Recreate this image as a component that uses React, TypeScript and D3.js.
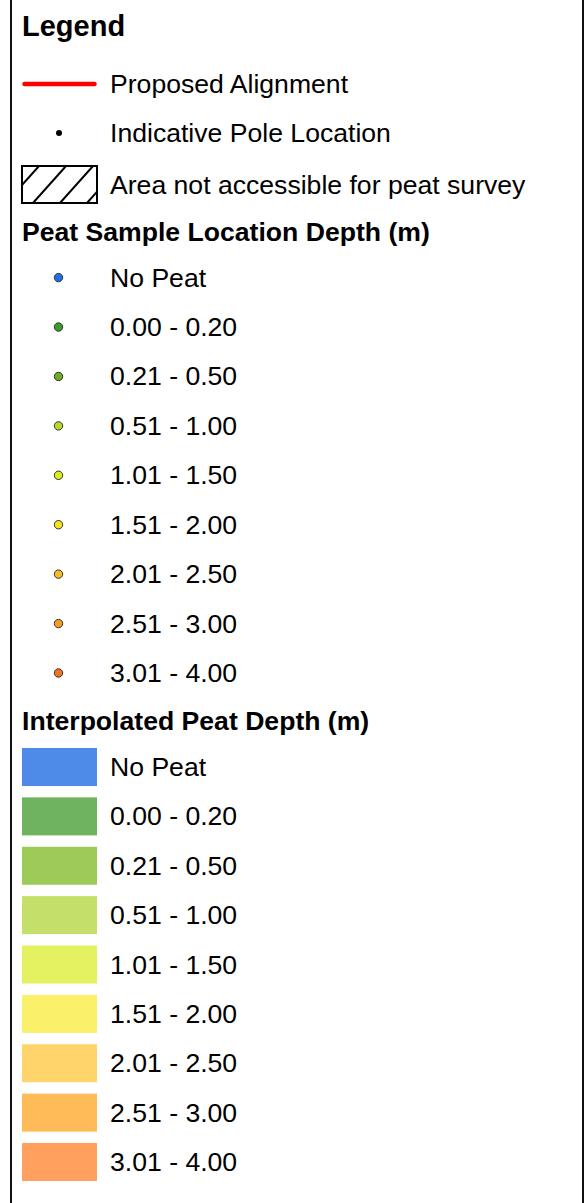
import { useEffect } from "react";
import * as d3 from "d3";

const depthLabels = [
  "No Peat",
  "0.00 - 0.20",
  "0.21 - 0.50",
  "0.51 - 1.00",
  "1.01 - 1.50",
  "1.51 - 2.00",
  "2.01 - 2.50",
  "2.51 - 3.00",
  "3.01 - 4.00",
];
const sampleColors = [
  "#1f6fe8",
  "#3b9a2c",
  "#6cae1e",
  "#b3d82a",
  "#dcec1c",
  "#f4e41c",
  "#f7bc24",
  "#f79c1c",
  "#f27222",
];
const surfaceColors = [
  "#4e8ae8",
  "#6fb260",
  "#9dcb58",
  "#c5e06a",
  "#e4f262",
  "#faf06a",
  "#ffd46a",
  "#ffbb58",
  "#ffa05e",
];
const headings = ["Legend", "Peat Sample Location Depth (m)", "Interpolated Peat Depth (m)"];
const generalItems = ["Proposed Alignment", "Indicative Pole Location", "Area not accessible for peat survey"];

const W = 588;
const H = 1203;
const FONT = "'Liberation Sans', Arial, sans-serif";

export default function App() {
  useEffect(() => {
    document.body.style.margin = "0";
  }, []);

  // row positions (index -> y centre)
  const sampleY = d3.scaleLinear().domain([0, 8]).range([277.6, 673]);
  const surfaceY = d3.scaleLinear().domain([0, 8]).range([767, 1162]);
  const generalY = [84, 133, 184.5];

  const symX = 22;
  const symW = 75;
  const textX = 110;
  const swatchH = 38;
  const bodySize = 26.6;
  const headSize = 26.6;

  const hatch = { x: symX, y: 166, w: symW, h: 37 };
  const hatchLines = d3.range(-1, 3).map((k) => hatch.x + 11 + k * 27);

  return (
    <svg width={W} height={H} style={{ display: "block", background: "#fff" }} fontFamily={FONT}>
      <defs>
        <clipPath id="hatchClip">
          <rect x={hatch.x} y={hatch.y} width={hatch.w} height={hatch.h} />
        </clipPath>
      </defs>

      {/* frame edges */}
      <line x1={11} y1={0} x2={11} y2={H} stroke="#111" strokeWidth={2} />
      <line x1={583} y1={0} x2={583} y2={H} stroke="#111" strokeWidth={2} />

      <text x={22} y={36} fontSize={29} fontWeight="bold" fill="#000">
        {headings[0]}
      </text>

      {/* general items */}
      <line
        x1={symX + 2.5}
        x2={symX + symW - 2.5}
        y1={generalY[0]}
        y2={generalY[0]}
        stroke="#ff0000"
        strokeWidth={4.5}
        strokeLinecap="round"
      />
      <circle cx={59} cy={generalY[1]} r={3} fill="#000" />
      <g clipPath="url(#hatchClip)">
        {hatchLines.map((bx, i) => (
          <line
            key={i}
            x1={bx}
            y1={hatch.y + hatch.h}
            x2={bx + 33}
            y2={hatch.y}
            stroke="#000"
            strokeWidth={2}
          />
        ))}
      </g>
      <rect x={hatch.x} y={hatch.y} width={hatch.w} height={hatch.h} fill="none" stroke="#000" strokeWidth={2} />
      {generalItems.map((t, i) => (
        <text key={t} x={textX} y={generalY[i] + 9} fontSize={bodySize} fill="#000">
          {t}
        </text>
      ))}

      <text x={22} y={241} fontSize={headSize} fontWeight="bold" fill="#000">
        {headings[1]}
      </text>

      {depthLabels.map((t, i) => (
        <g key={"s" + t}>
          <circle cx={58.5} cy={sampleY(i)} r={4.2} fill={sampleColors[i]} stroke="#333" strokeWidth={1} />
          <text x={textX} y={sampleY(i) + 9} fontSize={bodySize} fill="#000">
            {t}
          </text>
        </g>
      ))}

      <text x={22} y={729.5} fontSize={headSize} fontWeight="bold" fill="#000">
        {headings[2]}
      </text>

      {depthLabels.map((t, i) => (
        <g key={"p" + t}>
          <rect
            x={symX}
            y={surfaceY(i) - swatchH / 2}
            width={symW}
            height={swatchH}
            fill={surfaceColors[i]}
          />
          <text x={textX} y={surfaceY(i) + 9} fontSize={bodySize} fill="#000">
            {t}
          </text>
        </g>
      ))}
    </svg>
  );
}
